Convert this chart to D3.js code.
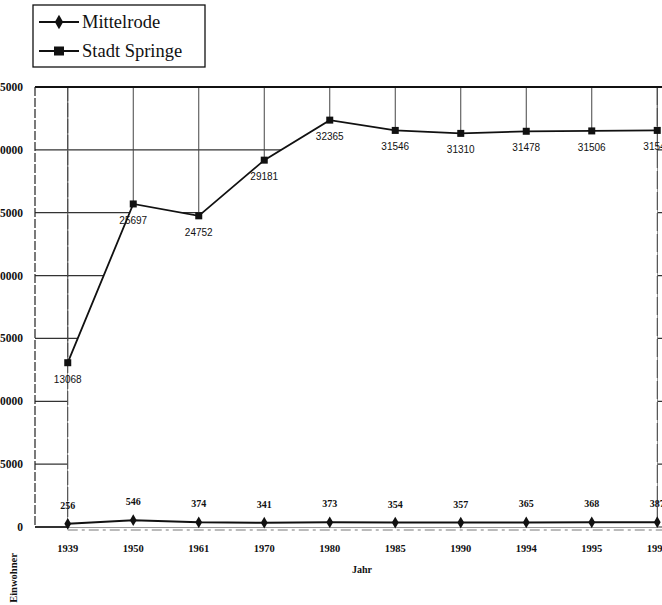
<!DOCTYPE html>
<html><head><meta charset="utf-8">
<script src="https://cdn.jsdelivr.net/npm/d3@7"></script>
<style>
html,body{margin:0;padding:0;background:#fff;}
svg{display:block;}
</style></head>
<body>
<svg id="chart" width="662" height="605"></svg>
<script>
const years = ["1939","1950","1961","1970","1980","1985","1990","1994","1995","1996"];
const springe = [13068,25697,24752,29181,32365,31546,31310,31478,31506,31547];
const mittelrode = [256,546,374,341,373,354,357,365,368,387];
const yTicks = [0,5000,10000,15000,20000,25000,30000,35000];
const seriesNames = ["Mittelrode","Stadt Springe"];

const svg = d3.select("#chart");
const x = d3.scaleBand().domain(years).range([35, 690]);
const cx = d => x(d) + x.bandwidth()/2;
const y = d3.scaleLinear().domain([0,35000]).range([527, 87]);
const serif = "'Liberation Serif','Times New Roman',serif";
const sans = "'Liberation Sans',Arial,sans-serif";
const ink = "#111";

const sp = years.map((yr,i)=>({year:yr, v:springe[i]}));
const mi = years.map((yr,i)=>({year:yr, v:mittelrode[i]}));

// gridlines
const g = svg.append("g");
g.selectAll("line.h").data(yTicks.filter(t=>t<35000)).enter().append("line")
  .attr("x1", x.range()[0]).attr("x2", x.range()[1])
  .attr("y1", d=>y(d)).attr("y2", d=>y(d))
  .attr("stroke", "#333").attr("stroke-width", 1.2);
g.selectAll("line.v").data(years).enter().append("line")
  .attr("x1", d=>cx(d)).attr("x2", d=>cx(d))
  .attr("y1", y(35000)).attr("y2", y(0))
  .attr("stroke", "#444").attr("stroke-width", 1);

// white area under Stadt Springe line hides grid
svg.append("path").datum(sp)
  .attr("d", d3.area().x(d=>cx(d.year)).y0(y(0)).y1(d=>y(d.v)))
  .attr("fill", "#fff");

// edge vertical gridlines (visible full height in reference)
svg.selectAll("line.ve").data([years[0], years[years.length-1]]).enter().append("line")
  .attr("x1", d=>cx(d)).attr("x2", d=>cx(d))
  .attr("y1", y(35000)).attr("y2", y(0))
  .attr("stroke", "#444").attr("stroke-width", 1)
  .attr("stroke-dasharray", d => d===years[0] ? "14,2" : "18,3");

// top frame line
svg.append("line").attr("x1", x.range()[0]).attr("x2", 662)
  .attr("y1", y(35000)).attr("y2", y(35000))
  .attr("stroke", ink).attr("stroke-width", 2);

// y axis line
svg.append("line").attr("x1", x.range()[0]).attr("x2", x.range()[0])
  .attr("y1", y(35000)).attr("y2", y(0))
  .attr("stroke", "#222").attr("stroke-width", 1.2).attr("stroke-dasharray", "9,2");

// baseline
svg.append("line").attr("x1", x.range()[0]).attr("x2", cx(years[0]))
  .attr("y1", y(0)).attr("y2", y(0)).attr("stroke", ink).attr("stroke-width", 1.5);
svg.append("line").attr("x1", cx(years[0])).attr("x2", 662)
  .attr("y1", y(0)+3).attr("y2", y(0)+3).attr("stroke", "#777").attr("stroke-width", 1)
  .attr("stroke-dasharray", "10,4,3,4");

// y tick labels
svg.selectAll("text.yt").data(yTicks).enter().append("text")
  .attr("x", 23).attr("y", d=>y(d)).attr("dy", "0.35em")
  .attr("text-anchor", "end").attr("font-family", serif).attr("font-weight", "bold")
  .attr("font-size", 11.5).attr("fill", ink).text(d=>d);

// x tick labels
svg.selectAll("text.xt").data(years).enter().append("text")
  .attr("x", d=>cx(d)).attr("y", 552)
  .attr("text-anchor", "middle").attr("font-family", serif).attr("font-weight", "bold")
  .attr("font-size", 10.5).attr("fill", ink).text(d=>d);

svg.append("text").attr("x", 362).attr("y", 573).attr("text-anchor", "middle")
  .attr("font-family", serif).attr("font-weight", "bold").attr("font-size", 10).attr("fill", ink).text("Jahr");
svg.append("text").attr("transform", "translate(17,578) rotate(-90)").attr("text-anchor", "middle")
  .attr("font-family", serif).attr("font-weight", "bold").attr("font-size", 10.5).attr("fill", ink).text("Einwohner");

// Stadt Springe line
svg.append("path").datum(sp)
  .attr("d", d3.line().x(d=>cx(d.year)).y(d=>y(d.v)))
  .attr("fill", "none").attr("stroke", ink).attr("stroke-width", 1.8);
svg.selectAll("rect.sp").data(sp).enter().append("rect")
  .attr("x", d=>cx(d.year)-3.5).attr("y", d=>y(d.v)-3.5).attr("width", 7).attr("height", 7).attr("fill", ink);
svg.selectAll("text.spl").data(sp).enter().append("text")
  .attr("x", d=>cx(d.year)).attr("y", d=>y(d.v)+20)
  .attr("text-anchor", "middle").attr("font-family", sans).attr("font-size", 10)
  .attr("fill", ink).text(d=>d.v);

// Mittelrode line
svg.append("path").datum(mi)
  .attr("d", d3.line().x(d=>cx(d.year)).y(d=>y(d.v)))
  .attr("fill", "none").attr("stroke", ink).attr("stroke-width", 2);
const diamond = d3.symbol().type(d3.symbolDiamond).size(40);
svg.selectAll("path.mi").data(mi).enter().append("path")
  .attr("transform", d=>`translate(${cx(d.year)},${y(d.v)})`).attr("d", diamond).attr("fill", ink);
svg.selectAll("text.mil").data(mi).enter().append("text")
  .attr("x", d=>cx(d.year)).attr("y", d=>y(d.v)-15)
  .attr("text-anchor", "middle").attr("font-family", serif).attr("font-weight", "bold").attr("font-size", 10)
  .attr("fill", ink).text(d=>d.v);

// legend
const lg = svg.append("g");
lg.append("rect").attr("x", 33).attr("y", 5).attr("width", 172).attr("height", 62)
  .attr("fill", "#fff").attr("stroke", ink).attr("stroke-width", 1.3);
seriesNames.forEach((name,i)=>{
  const ly = 22 + i*29;
  lg.append("line").attr("x1", 39).attr("x2", 79).attr("y1", ly).attr("y2", ly)
    .attr("stroke", ink).attr("stroke-width", 2);
  if (i===0) lg.append("path").attr("transform", `translate(59,${ly})`)
    .attr("d", d3.symbol().type(d3.symbolDiamond).size(60)).attr("fill", ink);
  else lg.append("rect").attr("x", 54).attr("y", ly-4.5).attr("width", 10).attr("height", 9).attr("fill", ink);
  lg.append("text").attr("x", 82).attr("y", ly).attr("dy", "0.35em")
    .attr("font-family", serif).attr("font-size", 18.5).attr("fill", ink).text(name);
});
</script>
</body></html>
